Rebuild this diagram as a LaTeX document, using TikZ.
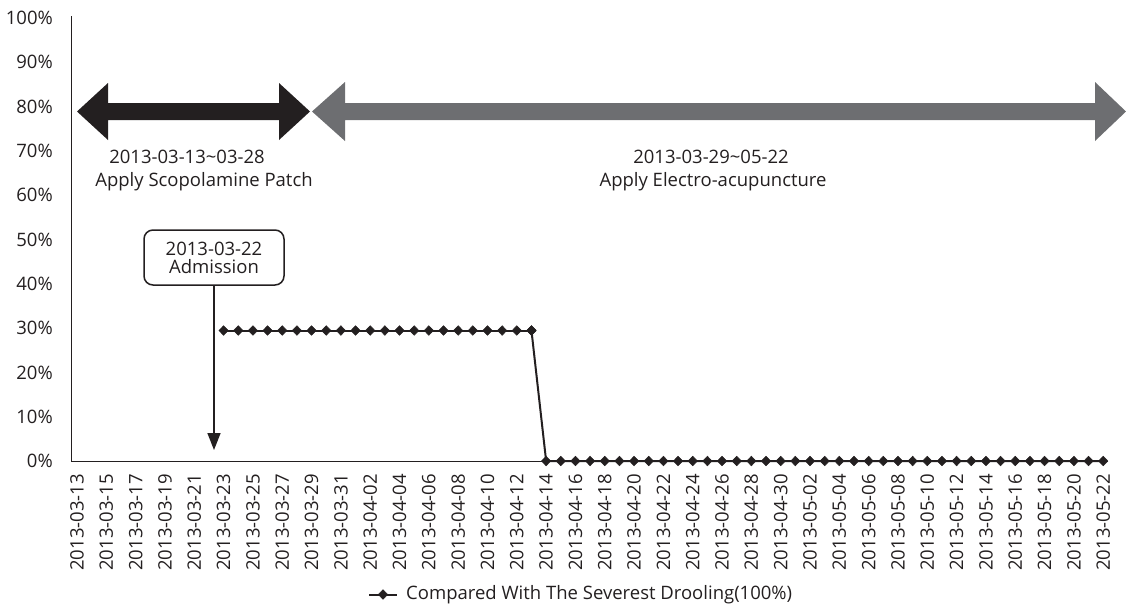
\documentclass[tikz,border=0pt]{standalone}
\usepackage{fontspec}
\setmainfont{Open Sans}
\usepackage{xcolor}
\usetikzlibrary{arrows, arrows.meta}
\usetikzlibrary{calc}
\usetikzlibrary{plotmarks}

\definecolor{inkblack}{HTML}{231F20}
\definecolor{inkgray}{HTML}{6D6E71}

\tikzset{
  lbl/.style={text=inkblack, inner sep=0pt, font=\fontsize{18.5}{22}\selectfont},
  datebox/.style={lbl, rotate=90, anchor=east},
  drool/.style={draw=inkblack, line width=2pt, mark=diamond*, mark size=4.8pt,
    mark options={fill=inkblack, draw=inkblack, line width=0.5pt, xscale=1.3}}
}

\begin{document}
\begin{tikzpicture}[x=1pt, y=-1pt]
      \useasboundingbox (0,0) rectangle (1126,606);

      % axes
      \draw[inkblack, line width=1pt] (71,16) -- (71,461.5) -- (1108,461.5);

      % percent labels
      \foreach \k in {0,...,10} {
        \pgfmathtruncatemacro{\pc}{10*\k}
        \node[lbl, anchor=east] (y\k) at (53,{461-44.3*\k}) {\pc\%};
      }

      % date labels, every second day
      \foreach \d/\t in {0/03-13,2/03-15,4/03-17,6/03-19,8/03-21,10/03-23,12/03-25,14/03-27,
          16/03-29,18/03-31,20/04-02,22/04-04,24/04-06,26/04-08,28/04-10,30/04-12,
          32/04-14,34/04-16,36/04-18,38/04-20,40/04-22,42/04-24,44/04-26,46/04-28,
          48/04-30,50/05-02,52/05-04,54/05-06,56/05-08,58/05-10,60/05-12,62/05-14,
          64/05-16,66/05-18,68/05-20,70/05-22} {
        \node[datebox] (d\d) at ({77+14.66*\d},474) {2013-\t};
      }

      % treatment periods
      \fill[inkblack] (77,111.5) -- (108,83) -- (108,103) -- (279,103) -- (279,83) -- (310,111.5)
        -- (279,140) -- (279,120) -- (108,120) -- (108,140) -- cycle;
      \fill[inkgray] (312,111.5) -- (345,82) -- (345,103) -- (1095,103) -- (1095,82) -- (1126,111.5)
        -- (1095,141) -- (1095,120) -- (345,120) -- (345,141) -- cycle;

      \node[lbl] (p1a) at (187,157) {2013-03-13\textasciitilde 03-28};
      \node[lbl] (p1b) at (204,182) {Apply Scopolamine Patch};
      \node[lbl] (p2a) at (711,157) {2013-03-29\textasciitilde 05-22};
      \node[lbl] (p2b) at (713,182) {Apply Electro-acupuncture};

      % admission
      \node[lbl, draw=inkblack, line width=1.5pt, rounded corners=9pt, minimum width=140pt,
        minimum height=55pt, align=center, inner sep=2pt] (adm) at (214,257.5)
        {2013-03-22\\[-4pt]Admission};
      \coordinate (admtip) at (214,450);
      \draw[inkblack, line width=1.6pt, -{Triangle[length=17pt, width=13pt]}] (adm.south) -- (admtip);

      % data
      \draw[drool] plot[samples at={10,...,31}] ({77+14.66*\x},330.5);
      \draw[drool] plot[samples at={31,...,70}] ({77+14.66*\x},{\x<32 ? 330.5 : 461});

      % legend
      \coordinate (lega) at (369,594.5);
      \coordinate (legb) at (397,594.5);
      \draw[draw=inkblack, line width=2pt] (lega) -- (legb);
      \draw[drool] plot coordinates {(383,594.5)};
      \node[lbl, anchor=west] (leg) at (406,594.5) {Compared With The Severest Drooling(100\%)};
\end{tikzpicture}
\end{document}
